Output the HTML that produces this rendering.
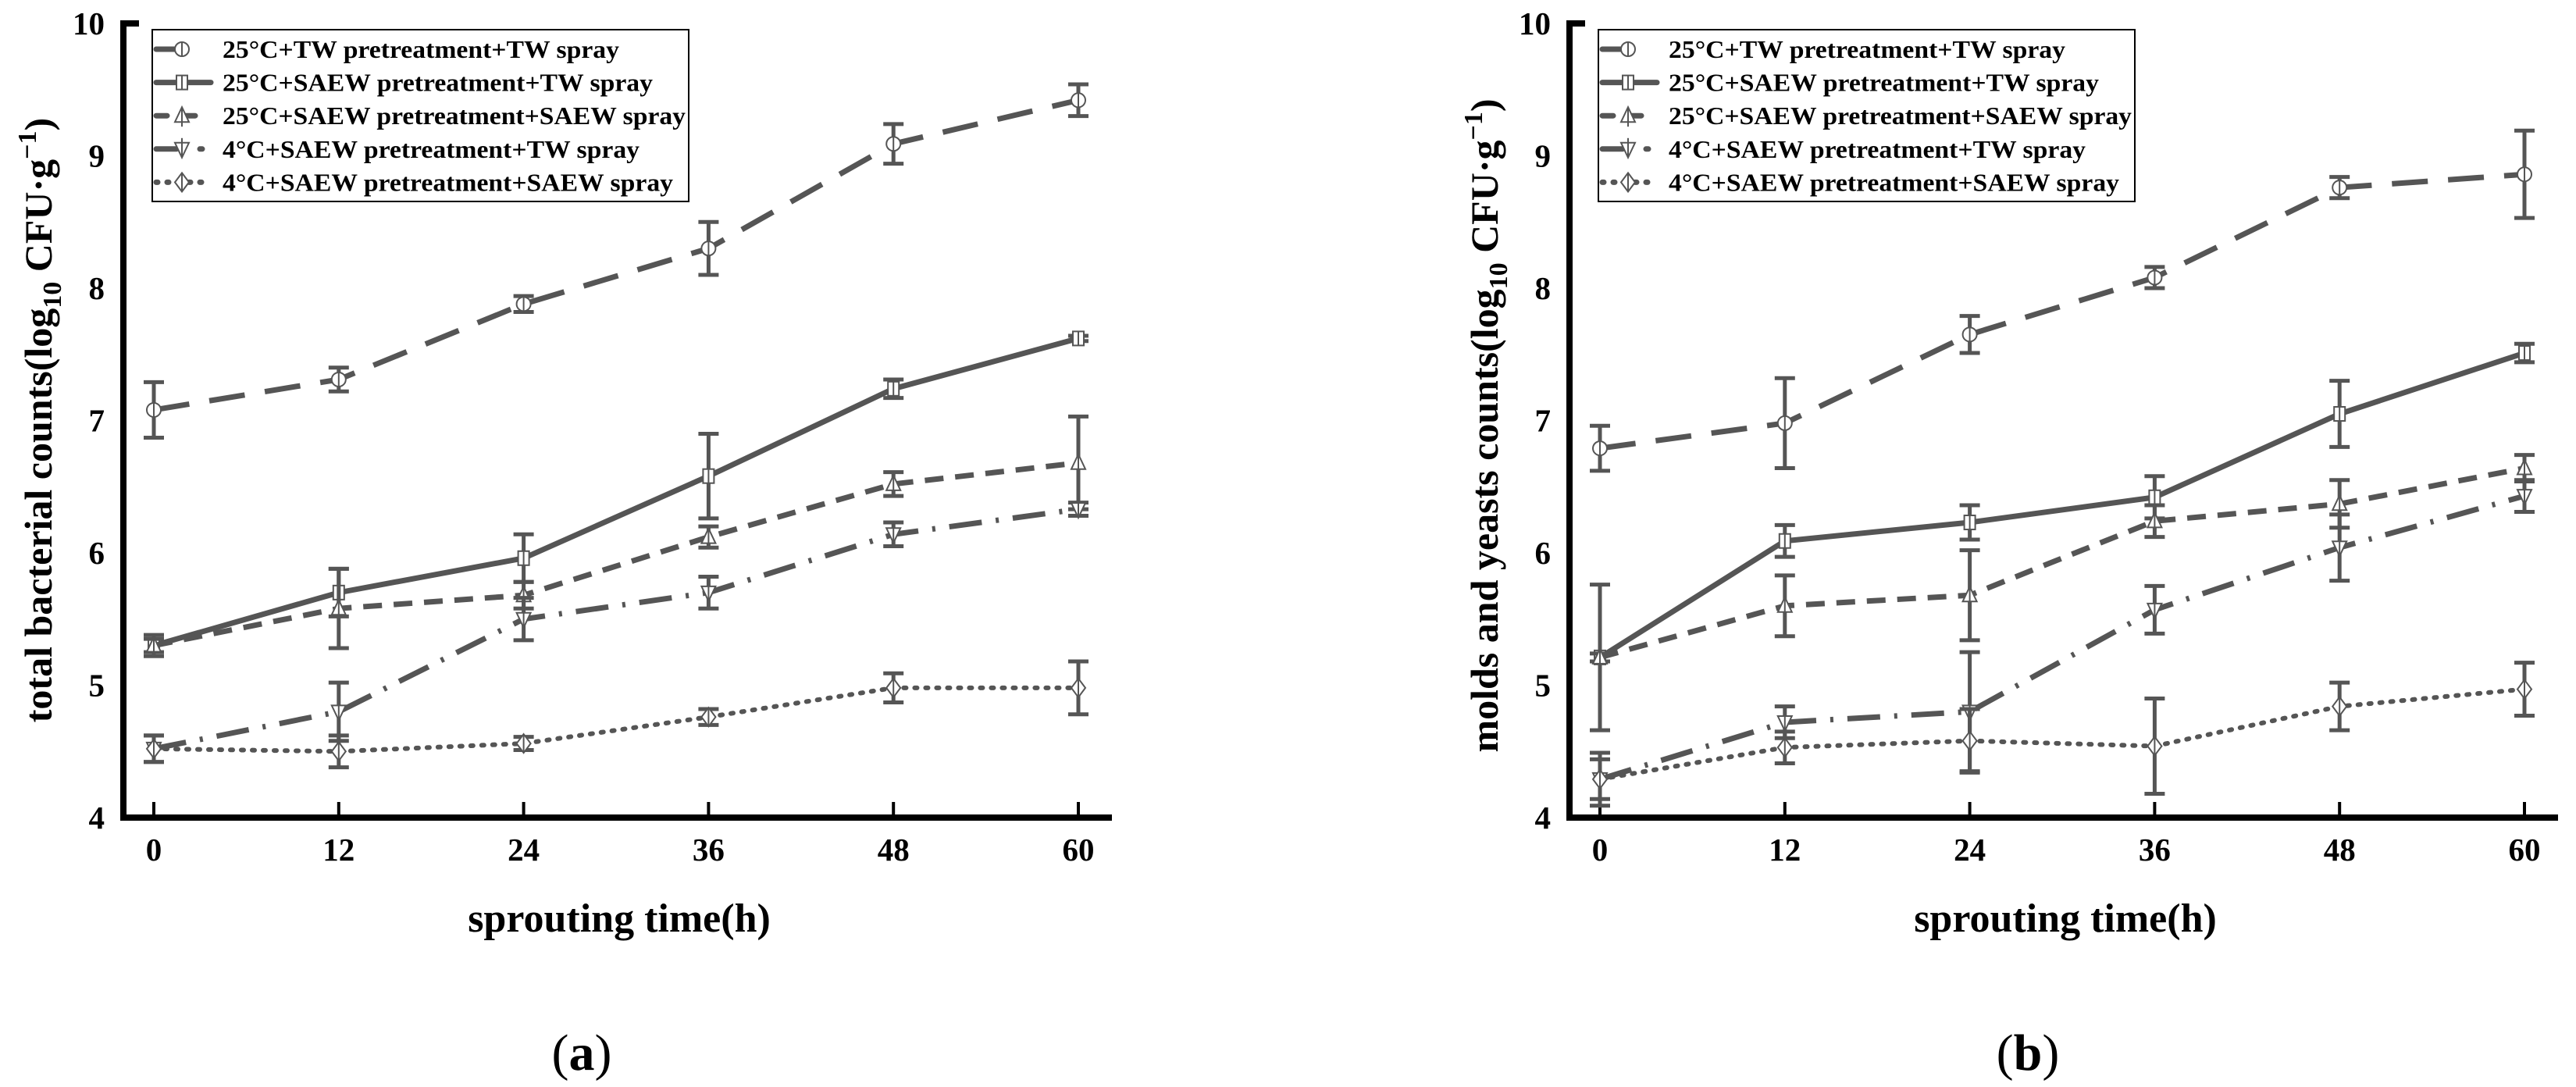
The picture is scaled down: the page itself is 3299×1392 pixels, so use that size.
<!DOCTYPE html>
<html><head><meta charset="utf-8"><style>
html,body{margin:0;padding:0;background:#fff;}
svg{display:block;font-family:"Liberation Serif",serif;}
</style></head><body>
<svg id="fig" width="3299" height="1392" viewBox="0 0 3299 1392"></svg>
<script>
const hours = [0, 12, 24, 36, 48, 60];
const yTicks = [4, 5, 6, 7, 8, 9, 10];
const seriesNames = ["25°C+TW pretreatment+TW spray","25°C+SAEW pretreatment+TW spray","25°C+SAEW pretreatment+SAEW spray","4°C+SAEW pretreatment+TW spray","4°C+SAEW pretreatment+SAEW spray"];
const legendLens = [508, 551, 593, 534, 577];
// panel a: total bacterial counts
const aS1 = [7.08, 7.31, 7.88, 8.30, 9.09, 9.42];
const aS2 = [5.30, 5.70, 5.96, 6.58, 7.24, 7.62];
const aS3 = [5.30, 5.58, 5.68, 6.12, 6.52, 6.68];
const aS4 = [4.52, 4.80, 5.50, 5.70, 6.14, 6.33];
const aS5 = [4.52, 4.50, 4.56, 4.76, 4.98, 4.98];
const aE1 = [0.21, 0.09, 0.06, 0.20, 0.15, 0.12];
const aE2 = [0.08, 0.18, 0.18, 0.32, 0.07, 0.02];
const aE3 = [0.05, 0.30, 0.10, 0.08, 0.09, 0.35];
const aE4 = [0.10, 0.22, 0.16, 0.12, 0.09, 0.05];
const aE5 = [0.10, 0.12, 0.05, 0.06, 0.11, 0.20];
// panel b: molds and yeasts counts
const bS1 = [6.79, 6.98, 7.65, 8.08, 8.76, 8.86];
const bS2 = [5.21, 6.09, 6.23, 6.42, 7.05, 7.51];
const bS3 = [5.21, 5.60, 5.68, 6.24, 6.37, 6.64];
const bS4 = [4.29, 4.72, 4.80, 5.57, 6.04, 6.43];
const bS5 = [4.29, 4.53, 4.58, 4.54, 4.84, 4.97];
const bE1 = [0.17, 0.34, 0.14, 0.08, 0.08, 0.33];
const bE2 = [0.55, 0.12, 0.13, 0.16, 0.25, 0.07];
const bE3 = [0.03, 0.23, 0.34, 0.12, 0.18, 0.10];
const bE4 = [0.20, 0.12, 0.45, 0.18, 0.25, 0.12];
const bE5 = [0.15, 0.12, 0.24, 0.36, 0.18, 0.20];

const NS = "http://www.w3.org/2000/svg";
const svg = document.getElementById("fig");
function mk(tag, attrs, parent){ const e=document.createElementNS(NS,tag); for(const k in attrs) e.setAttribute(k,attrs[k]); (parent||svg).appendChild(e); return e; }
const dashes = ["46 26", "none", "24 15", "42 18 4 18", "3 11"];
const markers = ["circle","square","tri","dtri","diamond"];
const C = "#555";

function marker(g, type, cx, cy){
  let m;
  const st = {fill:"#fff", stroke:C, "stroke-width":2};
  if(type==="circle"){ m=mk("circle",Object.assign({cx:cx,cy:cy,r:9},st),g); mk("line",{x1:cx,y1:cy-9,x2:cx,y2:cy+9,stroke:C,"stroke-width":2},g); }
  else if(type==="square"){ m=mk("rect",Object.assign({x:cx-7,y:cy-9,width:14,height:18},st),g); mk("line",{x1:cx,y1:cy-9,x2:cx,y2:cy+9,stroke:C,"stroke-width":2},g); }
  else if(type==="tri"){ m=mk("polygon",Object.assign({points:`${cx},${cy-11} ${cx+9},${cy+8} ${cx-9},${cy+8}`},st),g); mk("line",{x1:cx,y1:cy-11,x2:cx,y2:cy+14,stroke:C,"stroke-width":2},g); }
  else if(type==="dtri"){ m=mk("polygon",Object.assign({points:`${cx-9},${cy-8} ${cx+9},${cy-8} ${cx},${cy+11}`},st),g); mk("line",{x1:cx,y1:cy-14,x2:cx,y2:cy+11,stroke:C,"stroke-width":2},g); }
  else { m=mk("polygon",Object.assign({points:`${cx},${cy-12} ${cx+9},${cy} ${cx},${cy+12} ${cx-9},${cy}`},st),g); mk("line",{x1:cx,y1:cy-12,x2:cx,y2:cy+12,stroke:C,"stroke-width":2},g); }
  return m;
}

function panel(off, series, errs, ytitle, letter, tag){
  const X0=197+off, X1=1381+off, Y4=1047, Y10=30, AX=158+off;
  const xs = h => X0 + (h-hours[0])/(hours[hours.length-1]-hours[0])*(X1-X0);
  const ys = v => Y4 - (v-4)/(10-4)*(Y4-Y10);
  const g = mk("g",{});
  
  
  const ax = mk("path",{d:`M${AX+20} ${Y10} H${AX} V${Y4} H${1424+off}`,fill:"none",stroke:"#000","stroke-width":8},g);
  
  
  hours.forEach(h=>{
    mk("line",{x1:xs(h),y1:Y4,x2:xs(h),y2:Y4-20,stroke:"#000","stroke-width":4},g);
    const t=mk("text",{x:xs(h),y:1102,"text-anchor":"middle","font-size":41,"font-weight":"bold"},g);
    t.textContent=h;
    
    
  });
  yTicks.forEach(v=>{
    const t=mk("text",{x:134+off,y:ys(v)+14,"text-anchor":"end","font-size":41,"font-weight":"bold"},g);
    t.textContent=v;
    
    
  });
  series.forEach((s,i)=>{
    const sg = mk("g",{},g);
    
    
    s.forEach((v,j)=>{
      const e=errs[i][j], x=xs(hours[j]);
      const eb=mk("path",{d:`M${x} ${ys(v+e)} V${ys(v-e)} M${x-13} ${ys(v+e)} H${x+13} M${x-13} ${ys(v-e)} H${x+13}`,stroke:C,"stroke-width":5,fill:"none"},sg);
      
      
    });
    const d = s.map((v,j)=>(j?"L":"M")+xs(hours[j])+" "+ys(v)).join(" ");
    const ln=mk("path",{d:d,fill:"none",stroke:C,"stroke-width":i===4?6:7,"stroke-dasharray":dashes[i],"stroke-linecap":i===4?"round":"butt"},sg);
    
    
    s.forEach((v,j)=>{
      const m=marker(sg,markers[i],xs(hours[j]),ys(v));
      
      
    });
  });
  const lg = mk("g",{},g);
  
  
  mk("rect",{x:195+off,y:38,width:687,height:220,fill:"#fff",stroke:"#000","stroke-width":2},lg);
  seriesNames.forEach((n,i)=>{
    const y=63+i*42.6;
    const le=mk("g",{},lg);
    
    
    mk("line",{x1:200+off,y1:y,x2:(i===0?232:270)+off,y2:y,stroke:C,"stroke-width":7,"stroke-dasharray":i===4?"2 12":(i===2?"14 22":(i===3?"26 30 3 30":"none")),"stroke-linecap":"round"},le);
    marker(le,markers[i],233+off,y);
    const t=mk("text",{x:285+off,y:y+11,"font-size":32,"font-weight":"bold",textLength:legendLens[i],lengthAdjust:"spacingAndGlyphs"},le);
    t.textContent=n;
    
    
  });
  const xt=mk("text",{x:793+off,y:1193,"text-anchor":"middle","font-size":52,"font-weight":"bold"},g);
  xt.textContent="sprouting time(h)";
  
  
  const cy = tag==="a"?538:545, cx = 66;
  const yt=mk("text",{x:0,y:0,"text-anchor":"middle","font-size":50,"font-weight":"bold",transform:`translate(${cx+off},${cy}) rotate(-90)`},g);
  
  
  yt.innerHTML = ytitle + `(log<tspan font-size="34" dy="12">10</tspan><tspan dy="-12"> CFU·g</tspan><tspan font-size="34" dy="-20">−1</tspan><tspan dy="20">)</tspan>`;
  const lt=mk("text",{x:(tag==="a"?745:2597),y:1370,"text-anchor":"middle","font-size":66},g);
  lt.innerHTML = `(<tspan font-weight="bold">${letter}</tspan>)`;
  
  
}
panel(0,[aS1,aS2,aS3,aS4,aS5],[aE1,aE2,aE3,aE4,aE5],"total bacterial counts","a","a");
panel(1852,[bS1,bS2,bS3,bS4,bS5],[bE1,bE2,bE3,bE4,bE5],"molds and yeasts counts","b","b");
</script>
</body></html>
